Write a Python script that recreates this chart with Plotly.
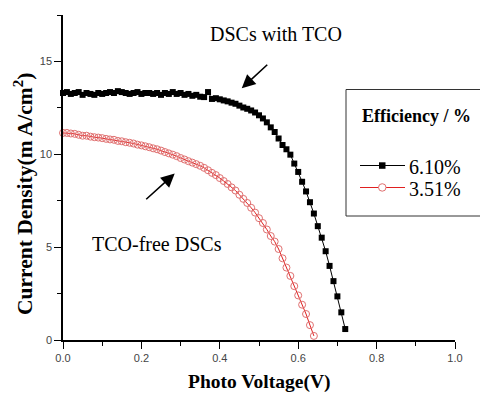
import plotly.graph_objects as go

# ---- data ----
voltage_tco = [round(i * 0.01, 2) for i in range(73)]
current_tco = [13.30, 13.35, 13.25, 13.30, 13.35, 13.20, 13.30, 13.25, 13.20, 13.30,
               13.25, 13.30, 13.35, 13.30, 13.40, 13.35, 13.30, 13.25, 13.30, 13.35,
               13.25, 13.30, 13.30, 13.25, 13.30, 13.20, 13.30, 13.25, 13.35, 13.25,
               13.30, 13.20, 13.25, 13.15, 13.20, 13.10, 13.08, 13.35, 12.98, 13.02,
               12.96, 12.90, 12.85, 12.78, 12.72, 12.62, 12.52, 12.45, 12.36, 12.25,
               12.10, 11.93, 11.72, 11.45, 11.20, 10.85, 10.50, 10.27, 9.98, 9.50,
               9.05, 8.52, 8.00, 7.42, 6.81, 6.13, 5.51, 4.78, 3.99, 3.17,
               2.35, 1.49, 0.59]

voltage_free = [round(i * 0.01, 2) for i in range(65)]
current_free = [11.15, 11.15, 11.12, 11.10, 11.05, 11.00, 11.00, 10.95, 10.92, 10.90,
                10.87, 10.83, 10.80, 10.78, 10.72, 10.70, 10.65, 10.62, 10.58, 10.52,
                10.48, 10.43, 10.38, 10.32, 10.27, 10.20, 10.12, 10.05, 9.98, 9.90,
                9.80, 9.72, 9.63, 9.55, 9.47, 9.38, 9.27, 9.14, 9.00, 8.88,
                8.72, 8.56, 8.40, 8.22, 8.05, 7.82, 7.60, 7.38, 7.12, 6.86,
                6.56, 6.30, 5.95, 5.60, 5.30, 4.90, 4.40, 3.90, 3.45, 2.90,
                2.40, 1.90, 1.40, 0.80, 0.22]

series_names = ["6.10%", "3.51%"]
x_ticks = [0.0, 0.2, 0.4, 0.6, 0.8, 1.0]
y_ticks = [0, 5, 10, 15]

W, H = 480, 394
ML, MR, MT, MB = 63, 25, 15, 54
PW, PH = W - ML - MR, H - MT - MB

def px(xp):
    return (xp - ML) / PW

def py(yp):
    return (H - MB - yp) / PH

SERIF = "Liberation Serif, Times New Roman, serif"
SANS = "Liberation Sans, Arial, sans-serif"

fig = go.Figure()
fig.add_trace(go.Scatter(
    x=voltage_free, y=current_free, mode="lines+markers", name=series_names[1],
    line=dict(color="#e02020", width=1),
    marker=dict(symbol="circle-open", size=7, color="#e07070", line=dict(width=1)),
    cliponaxis=False, showlegend=False))
fig.add_trace(go.Scatter(
    x=voltage_tco, y=current_tco, mode="lines+markers", name=series_names[0],
    line=dict(color="black", width=1),
    marker=dict(symbol="square", size=6, color="black"),
    cliponaxis=False, showlegend=False))

fig.update_layout(
    width=W, height=H, margin=dict(l=ML, r=MR, t=MT, b=MB),
    paper_bgcolor="white", plot_bgcolor="white",
    xaxis=dict(range=[0, 1.0], tickvals=x_ticks, ticktext=[f"{v:.1f}" for v in x_ticks],
               showline=True, linecolor="black", linewidth=1.5, mirror=False,
               ticks="outside", ticklen=7, tickwidth=1.2, tickcolor="black",
               minor=dict(dtick=0.1, ticks="outside", ticklen=4, tickwidth=1.2, tickcolor="black"),
               showgrid=False, zeroline=False,
               tickfont=dict(family=SANS, size=11, color="#444")),
    yaxis=dict(range=[0, 17.5], tickvals=y_ticks,
               showline=True, linecolor="black", linewidth=1.5, mirror=False,
               ticks="outside", ticklen=7, tickwidth=1.2, tickcolor="black",
               minor=dict(dtick=2.5, ticks="outside", ticklen=4, tickwidth=1.2, tickcolor="black"),
               showgrid=False, zeroline=False,
               tickfont=dict(family=SANS, size=11, color="#444")),
)

def label(text, xp, yp, size, xanchor="center", angle=0):
    fig.add_annotation(text=text, xref="paper", yref="paper", x=px(xp), y=py(yp),
                       xanchor=xanchor, yanchor="middle", textangle=angle, showarrow=False,
                       font=dict(family=SERIF, size=size, color="black"))

# axis titles
label("<b>Current Density(m A/cm<sup>2</sup>)</b>", 23, 194, 21.5, angle=-90)
label("<b>Photo Voltage(V)</b>", 259, 382, 19.5)

# text labels
label("DSCs with TCO", 276, 34, 20)
label("TCO-free DSCs", 157, 244, 20)

# arrows
fig.add_annotation(x=0.456, y=13.55, xref="x", yref="y", ax=27, ay=-25, text="",
                   showarrow=True, arrowhead=2, arrowsize=1.7, arrowwidth=1.6, arrowcolor="black")
fig.add_annotation(x=0.285, y=8.96, xref="x", yref="y", ax=-30, ay=27, text="",
                   showarrow=True, arrowhead=2, arrowsize=1.7, arrowwidth=1.6, arrowcolor="black")

# legend box (manual)
fig.add_shape(type="rect", xref="paper", yref="paper",
              x0=px(346), x1=px(490), y0=py(216), y1=py(89.5),
              line=dict(color="#333", width=1), fillcolor="white", layer="below")
label("<b>Efficiency / %</b>", 360, 116, 18, xanchor="left")
# black sample
fig.add_shape(type="line", xref="paper", yref="paper", x0=px(360), x1=px(405),
              y0=py(165.5), y1=py(165.5), line=dict(color="black", width=1))
fig.add_shape(type="rect", xref="paper", yref="paper", x0=px(379), x1=px(385.5),
              y0=py(168.8), y1=py(162.3), line=dict(color="black", width=0), fillcolor="black")
label(series_names[0], 407, 167, 20, xanchor="left")
# red sample
fig.add_shape(type="line", xref="paper", yref="paper", x0=px(360), x1=px(405),
              y0=py(187.5), y1=py(187.5), line=dict(color="#e02020", width=1))
fig.add_shape(type="circle", xref="paper", yref="paper", x0=px(378.5), x1=px(386),
              y0=py(191.2), y1=py(183.7), line=dict(color="#e07070", width=1), fillcolor="white")
label(series_names[1], 407, 189, 20, xanchor="left")

fig.write_html("out.html", config={"displayModeBar": False},
               post_script="document.body.style.margin='0';document.body.style.overflow='hidden';")
